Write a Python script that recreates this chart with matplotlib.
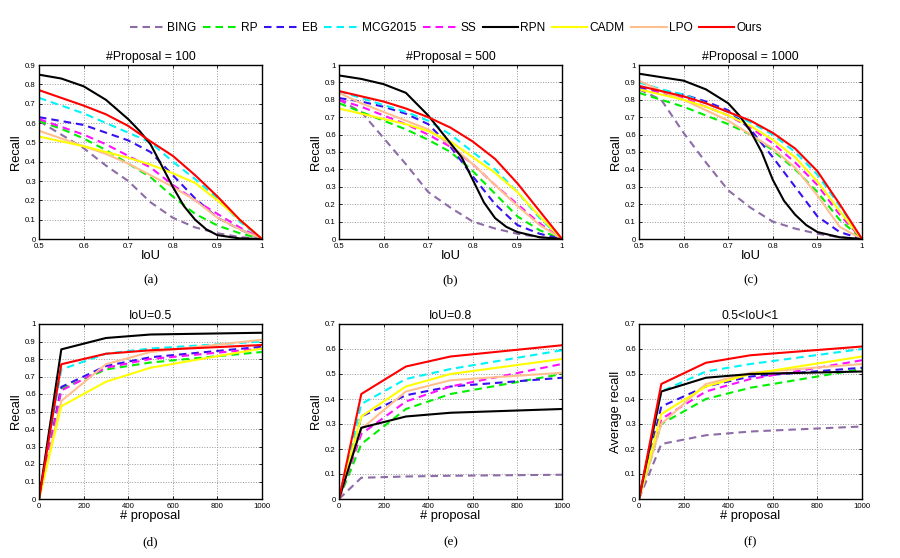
import numpy as np
import matplotlib
matplotlib.use('Agg')
import matplotlib.pyplot as plt
from matplotlib.ticker import FormatStrFormatter, MultipleLocator

plt.rcParams['font.family'] = ['Liberation Sans', 'DejaVu Sans']

methods = ['BING', 'RP', 'EB', 'MCG2015', 'SS', 'RPN', 'CADM', 'LPO', 'Ours']
colors = ['#8e6ca6', '#00f000', '#3a10f0', '#00f4f8', '#ff10ff', '#000000',
          '#ffff00', '#ffc090', '#ff0000']
dashed = [True, True, True, True, True, False, False, False, False]

# recall vs IoU, common grid (RPN read on a finer grid)
iou = [0.5, 0.55, 0.6, 0.65, 0.7, 0.75, 0.8, 0.85, 0.9, 0.95, 1.0]
iou_rpn = [0.5, 0.55, 0.6, 0.65, 0.7, 0.725, 0.75, 0.775, 0.8, 0.825, 0.85,
           0.875, 0.9, 0.95, 1.0]

# #Proposal = 100
p100_bing = [0.61, 0.54, 0.47, 0.38, 0.30, 0.19, 0.11, 0.06, 0.03, 0.01, 0.0]
p100_rp = [0.61, 0.57, 0.52, 0.46, 0.39, 0.32, 0.22, 0.13, 0.07, 0.03, 0.0]
p100_eb = [0.63, 0.61, 0.59, 0.55, 0.51, 0.45, 0.33, 0.21, 0.11, 0.05, 0.0]
p100_mcg = [0.73, 0.69, 0.65, 0.60, 0.55, 0.50, 0.40, 0.31, 0.21, 0.09, 0.0]
p100_ss = [0.62, 0.58, 0.54, 0.49, 0.43, 0.37, 0.28, 0.20, 0.13, 0.06, 0.0]
p100_rpn = [0.85, 0.83, 0.79, 0.72, 0.62, 0.56, 0.49, 0.38, 0.27, 0.17, 0.10,
            0.05, 0.02, 0.003, 0.0]
p100_cadm = [0.53, 0.505, 0.48, 0.45, 0.42, 0.385, 0.34, 0.29, 0.20, 0.10, 0.0]
p100_lpo = [0.56, 0.52, 0.48, 0.44, 0.39, 0.33, 0.27, 0.20, 0.11, 0.05, 0.0]
p100_ours = [0.77, 0.73, 0.69, 0.645, 0.585, 0.505, 0.43, 0.33, 0.22, 0.10, 0.0]

# #Proposal = 500
p500_bing = [0.80, 0.73, 0.58, 0.43, 0.27, 0.18, 0.10, 0.06, 0.03, 0.01, 0.0]
p500_rp = [0.78, 0.73, 0.68, 0.63, 0.57, 0.50, 0.39, 0.26, 0.13, 0.05, 0.0]
p500_eb = [0.81, 0.79, 0.76, 0.72, 0.66, 0.53, 0.36, 0.20, 0.08, 0.03, 0.0]
p500_mcg = [0.85, 0.81, 0.77, 0.73, 0.68, 0.60, 0.50, 0.40, 0.27, 0.12, 0.0]
p500_ss = [0.80, 0.76, 0.71, 0.66, 0.60, 0.53, 0.43, 0.31, 0.20, 0.09, 0.0]
p500_rpn = [0.94, 0.92, 0.89, 0.84, 0.71, 0.63, 0.55, 0.47, 0.34, 0.21, 0.12,
            0.07, 0.04, 0.01, 0.0]
p500_cadm = [0.75, 0.72, 0.69, 0.66, 0.62, 0.56, 0.47, 0.38, 0.27, 0.13, 0.0]
p500_lpo = [0.84, 0.78, 0.73, 0.68, 0.63, 0.54, 0.43, 0.31, 0.19, 0.08, 0.0]
p500_ours = [0.85, 0.82, 0.79, 0.75, 0.70, 0.64, 0.56, 0.46, 0.32, 0.16, 0.0]

# #Proposal = 1000
p1000_bing = [0.86, 0.80, 0.61, 0.44, 0.28, 0.18, 0.10, 0.06, 0.03, 0.01, 0.0]
p1000_rp = [0.84, 0.80, 0.76, 0.71, 0.66, 0.60, 0.51, 0.40, 0.27, 0.11, 0.0]
p1000_eb = [0.87, 0.85, 0.83, 0.79, 0.74, 0.63, 0.47, 0.30, 0.13, 0.04, 0.0]
p1000_mcg = [0.90, 0.86, 0.83, 0.78, 0.73, 0.67, 0.60, 0.50, 0.37, 0.19, 0.0]
p1000_ss = [0.86, 0.84, 0.81, 0.76, 0.71, 0.64, 0.55, 0.44, 0.31, 0.14, 0.0]
p1000_rpn = [0.95, 0.93, 0.91, 0.86, 0.78, 0.71, 0.62, 0.50, 0.34, 0.22, 0.14,
             0.08, 0.04, 0.01, 0.0]
p1000_cadm = [0.86, 0.83, 0.80, 0.76, 0.71, 0.65, 0.57, 0.47, 0.33, 0.16, 0.0]
p1000_lpo = [0.91, 0.85, 0.80, 0.74, 0.68, 0.60, 0.52, 0.41, 0.25, 0.07, 0.0]
p1000_ours = [0.88, 0.85, 0.82, 0.78, 0.73, 0.68, 0.61, 0.52, 0.39, 0.20, 0.0]

# recall vs number of proposals
n_prop = [0, 100, 300, 500, 1000]

# IoU = 0.5 (BING not drawn)
i05_rp = [0.0, 0.63, 0.74, 0.78, 0.84]
i05_eb = [0.0, 0.64, 0.76, 0.81, 0.87]
i05_mcg = [0.0, 0.74, 0.83, 0.86, 0.90]
i05_ss = [0.0, 0.62, 0.75, 0.80, 0.86]
i05_rpn = [0.0, 0.855, 0.92, 0.94, 0.95]
i05_cadm = [0.0, 0.53, 0.67, 0.75, 0.86]
i05_lpo = [0.0, 0.56, 0.77, 0.84, 0.91]
i05_ours = [0.0, 0.77, 0.83, 0.85, 0.88]

# IoU = 0.8
i08_bing = [0.0, 0.085, 0.09, 0.093, 0.097]
i08_rp = [0.0, 0.22, 0.36, 0.42, 0.50]
i08_eb = [0.0, 0.33, 0.415, 0.45, 0.485]
i08_mcg = [0.0, 0.38, 0.48, 0.52, 0.595]
i08_ss = [0.0, 0.26, 0.39, 0.45, 0.54]
i08_rpn = [0.0, 0.285, 0.33, 0.345, 0.36]
i08_cadm = [0.0, 0.33, 0.45, 0.50, 0.56]
i08_lpo = [0.0, 0.28, 0.43, 0.475, 0.505]
i08_ours = [0.0, 0.42, 0.53, 0.57, 0.615]

# average recall 0.5 < IoU < 1
ar_bing = [0.0, 0.22, 0.255, 0.27, 0.29]
ar_rp = [0.0, 0.30, 0.40, 0.445, 0.52]
ar_eb = [0.0, 0.37, 0.45, 0.49, 0.525]
ar_mcg = [0.0, 0.43, 0.51, 0.54, 0.60]
ar_ss = [0.0, 0.32, 0.43, 0.48, 0.555]
ar_rpn = [0.0, 0.43, 0.485, 0.50, 0.51]
ar_cadm = [0.0, 0.34, 0.45, 0.50, 0.57]
ar_lpo = [0.0, 0.30, 0.46, 0.505, 0.54]
ar_ours = [0.0, 0.46, 0.545, 0.575, 0.61]

top_sets = [
    ('#Proposal = 100', 0.9, [p100_bing, p100_rp, p100_eb, p100_mcg, p100_ss,
                              p100_rpn, p100_cadm, p100_lpo, p100_ours]),
    ('#Proposal = 500', 1.0, [p500_bing, p500_rp, p500_eb, p500_mcg, p500_ss,
                              p500_rpn, p500_cadm, p500_lpo, p500_ours]),
    ('#Proposal = 1000', 1.0, [p1000_bing, p1000_rp, p1000_eb, p1000_mcg, p1000_ss,
                               p1000_rpn, p1000_cadm, p1000_lpo, p1000_ours]),
]
bottom_sets = [
    ('IoU=0.5', 1.0, 'Recall', [None, i05_rp, i05_eb, i05_mcg, i05_ss,
                                i05_rpn, i05_cadm, i05_lpo, i05_ours]),
    ('IoU=0.8', 0.7, 'Recall', [i08_bing, i08_rp, i08_eb, i08_mcg, i08_ss,
                                i08_rpn, i08_cadm, i08_lpo, i08_ours]),
    ('0.5<IoU<1', 0.7, 'Average recall', [ar_bing, ar_rp, ar_eb, ar_mcg, ar_ss,
                                          ar_rpn, ar_cadm, ar_lpo, ar_ours]),
]
letters = ['(a)', '(b)', '(c)', '(d)', '(e)', '(f)']

# draw order: dashed first, then solid on top
order = [0, 1, 2, 3, 4, 7, 6, 5, 8]
dash = (0, (3.6, 2.4))


def style_ax(ax):
    ax.grid(color='#999999', linestyle=':', linewidth=0.7)
    ax.tick_params(direction='in', length=2.5, width=0.6, labelsize=5.6,
                   top=True, right=True)
    ax.tick_params(axis='x', pad=2.8)
    ax.tick_params(axis='y', pad=2.2)
    for s in ax.spines.values():
        s.set_linewidth(1.0)
    ax.yaxis.set_major_locator(MultipleLocator(0.1))
    ax.yaxis.set_major_formatter(FormatStrFormatter('%g'))
    ax.xaxis.set_major_formatter(FormatStrFormatter('%g'))


def draw(ax, xs, series, xs_rpn=None):
    for i in order:
        y = series[i]
        if y is None:
            continue
        x = xs_rpn if (i == 5 and xs_rpn is not None) else xs
        ax.plot(x, y, color=colors[i], lw=1.5,
                ls=dash if dashed[i] else '-', label=methods[i])


fig = plt.figure(figsize=(9, 5.58), dpi=100)
lefts = [39 / 900, 339 / 900, 639 / 900]
w = 223 / 900
handles = None

for k, (title, ymax, series) in enumerate(top_sets):
    ax = fig.add_axes([lefts[k], 1 - 239 / 558, w, 174 / 558])
    draw(ax, iou, series, iou_rpn)
    ax.set_xlim(0.5, 1)
    ax.set_ylim(0, ymax)
    ax.xaxis.set_major_locator(MultipleLocator(0.1))
    style_ax(ax)
    ax.set_title(title, fontsize=8.8, pad=3.5)
    ax.set_xlabel('IoU', fontsize=9.3, labelpad=0)
    ax.set_ylabel('Recall', fontsize=9.3, labelpad=2)
    ax.text(0.5, -0.24, letters[k], transform=ax.transAxes, ha='center', va='center',
            fontsize=9.5, family='Liberation Serif')
    if k == 0:
        handles, labels = ax.get_legend_handles_labels()

for k, (title, ymax, ylab, series) in enumerate(bottom_sets):
    ax = fig.add_axes([lefts[k], 1 - 499 / 558, w, 175 / 558])
    draw(ax, n_prop, series)
    ax.set_xlim(0, 1000)
    ax.set_ylim(0, ymax)
    ax.xaxis.set_major_locator(MultipleLocator(200))
    style_ax(ax)
    ax.set_title(title, fontsize=8.8, pad=3.5)
    ax.set_xlabel('# proposal', fontsize=9.3, labelpad=0)
    ax.set_ylabel(ylab, fontsize=9.3, labelpad=2)
    ax.text(0.5, -0.245, letters[k + 3], transform=ax.transAxes, ha='center',
            va='center', fontsize=9.5, family='Liberation Serif')

# legend in method order
hmap = dict(zip(labels, handles))
fig.legend([hmap[m] for m in methods], methods, loc='center', ncol=9,
           bbox_to_anchor=(446 / 900, 1 - 28 / 558), frameon=False, fontsize=8.6,
           handlelength=2.95, handletextpad=0.2, columnspacing=0.55)

fig.savefig('out.png', dpi=100)
